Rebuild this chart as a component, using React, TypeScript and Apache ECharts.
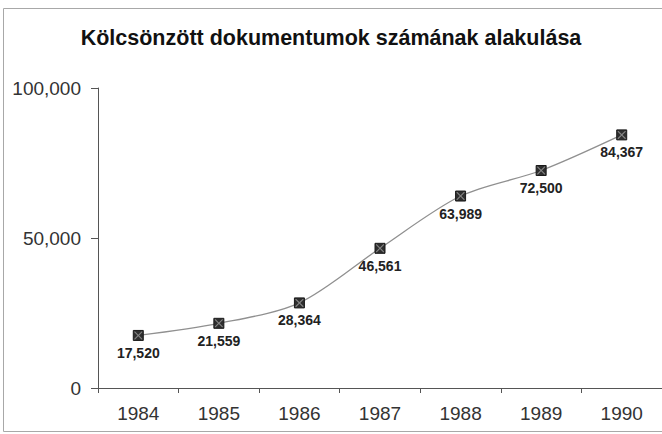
import React, { useEffect, useRef } from "react";
import * as echarts from "echarts";

const years = ["1984", "1985", "1986", "1987", "1988", "1989", "1990"];
const borrowed = [17520, 21559, 28364, 46561, 63989, 72500, 84367];
const titleText = "Kölcsönzött dokumentumok számának alakulása";

const FONT = "'Liberation Sans', Arial, sans-serif";

export default function App() {
  const ref = useRef<HTMLDivElement>(null);
  useEffect(() => {
    if (!ref.current) return;
    const chart = echarts.init(ref.current, undefined, { renderer: "svg" });
    chart.setOption({
      animation: false,
      backgroundColor: "#ffffff",
      title: {
        text: titleText,
        left: "center",
        top: 22,
        textStyle: { fontFamily: FONT, fontSize: 21.5, fontWeight: "bold", color: "#111" },
      },
      graphic: [
        {
          type: "rect",
          shape: { x: 3.5, y: 8.5, width: 670, height: 423 },
          style: { fill: "none", stroke: "#a8a8a8", lineWidth: 1 },
          silent: true,
        },
      ],
      grid: { left: 98, right: -2, top: 88, bottom: 46 },
      xAxis: {
        type: "category",
        data: years,
        boundaryGap: true,
        axisLine: { lineStyle: { color: "#555", width: 1 } },
        axisTick: { show: true, length: 5, alignWithLabel: false, lineStyle: { color: "#555" } },
        axisLabel: { fontFamily: FONT, fontSize: 19, color: "#333", margin: 16 },
        splitLine: { show: false },
      },
      yAxis: {
        type: "value",
        min: 0,
        max: 100000,
        interval: 50000,
        axisLine: { show: true, lineStyle: { color: "#555", width: 1 } },
        axisTick: { show: true, length: 7, lineStyle: { color: "#555" } },
        axisLabel: {
          fontFamily: FONT,
          fontSize: 19,
          color: "#333",
          margin: 17,
          formatter: (v: number) => v.toLocaleString("en-US"),
        },
        splitLine: { show: false },
      },
      series: [
        {
          type: "line",
          data: borrowed,
          smooth: 0.3,
          symbol: "rect",
          symbolSize: 10,
          lineStyle: { color: "#909090", width: 1.3 },
          itemStyle: { color: "#2e2e2e", borderColor: "#1a1a1a", borderWidth: 1 },
          label: {
            show: true,
            position: "bottom",
            distance: 5,
            fontFamily: FONT,
            fontSize: 14,
            fontWeight: "bold",
            color: "#222",
            formatter: (p: any) => Number(p.value).toLocaleString("en-US"),
          },
          z: 2,
        },
        {
          type: "scatter",
          data: borrowed,
          symbol: "path://M0,0L1,0L5,4L9,0L10,0L10,1L6,5L10,9L10,10L9,10L5,6L1,10L0,10L0,9L4,5L0,1Z",
          symbolSize: 8,
          itemStyle: { color: "#9a9a9a" },
          silent: true,
          z: 3,
        },
      ],
    });
    return () => chart.dispose();
  }, []);
  return (
    <div
      ref={ref}
      style={{ position: "fixed", left: 0, top: 0, width: 662, height: 434 }}
    />
  );
}
